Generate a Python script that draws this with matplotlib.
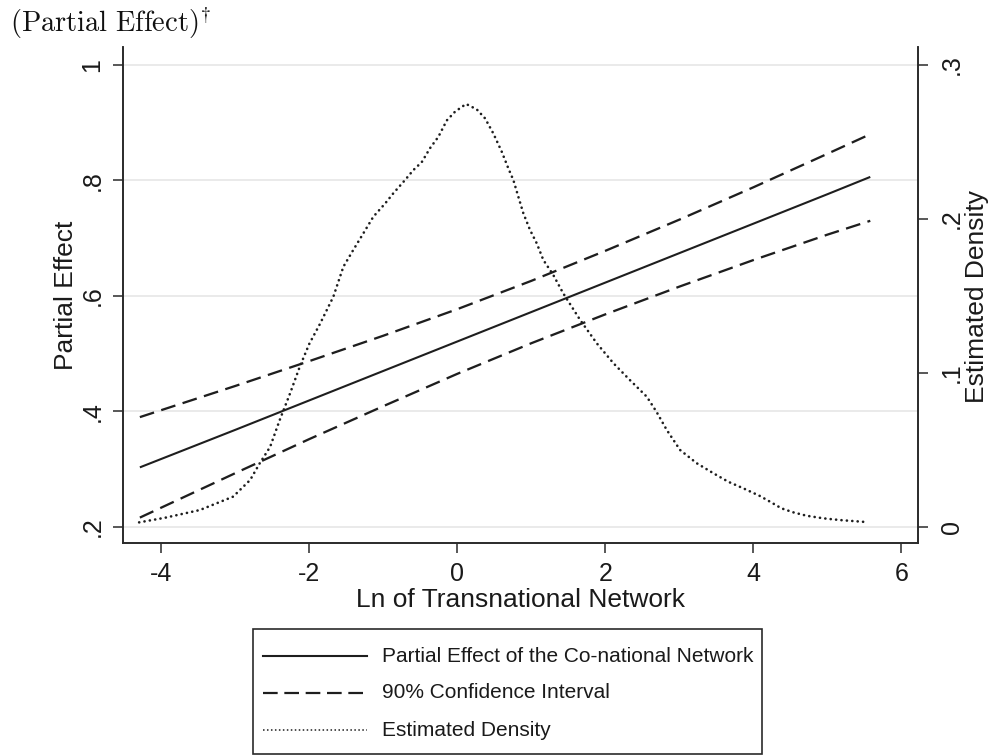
import matplotlib
matplotlib.use("Agg")
import matplotlib.pyplot as plt
from matplotlib.lines import Line2D
from matplotlib.patches import Rectangle

plt.rcParams['font.family'] = ['Liberation Sans', 'DejaVu Sans']
plt.rcParams['mathtext.fontset'] = 'cm'

# ---- data ----
x_eff = [-4.29, -3.0, -2.0, -1.0, 0.0, 1.0, 2.0, 3.0, 4.0, 5.0, 5.58]
effect = [0.303, 0.368, 0.419, 0.470, 0.521, 0.572, 0.623, 0.674, 0.725, 0.776, 0.806]
upper = [0.390, 0.444, 0.487, 0.531, 0.577, 0.626, 0.678, 0.732, 0.788, 0.846, 0.880]
lower = [0.216, 0.293, 0.352, 0.409, 0.465, 0.518, 0.568, 0.616, 0.662, 0.706, 0.730]

x_dens = [-4.30, -3.95, -3.48, -3.03, -2.80, -2.67, -2.53, -2.40, -2.26, -2.13,
          -2.00, -1.855, -1.676, -1.54, -1.405, -1.27, -1.135, -0.977, -0.865, -0.707,
          -0.594, -0.48, -0.369, -0.256, -0.143, -0.031, 0.118, 0.262, 0.374, 0.486,
          0.60, 0.689, 0.757, 0.824, 0.892, 0.982, 1.073, 1.162, 1.297, 1.43,
          1.66, 1.884, 2.11, 2.33, 2.56, 2.69, 2.83, 3.01, 3.235, 3.46,
          3.66, 3.865, 4.09, 4.226, 4.38, 4.54, 4.72, 4.95, 5.17, 5.53]
density = [0.003, 0.006, 0.011, 0.0197, 0.0305, 0.0414, 0.052, 0.0695, 0.0868, 0.104,
           0.119, 0.132, 0.1495, 0.169, 0.180, 0.1907, 0.2015, 0.210, 0.2167, 0.2253,
           0.2318, 0.237, 0.246, 0.2534, 0.264, 0.2697, 0.2747, 0.2712, 0.2654, 0.2556,
           0.2437, 0.2329, 0.2253, 0.2145, 0.2037, 0.1929, 0.1842, 0.1734, 0.1636, 0.1518,
           0.1344, 0.1193, 0.1063, 0.0955, 0.0846, 0.0749, 0.063, 0.050, 0.0414, 0.0349,
           0.0294, 0.0251, 0.0201, 0.0164, 0.0121, 0.0095, 0.0073, 0.0056, 0.0045, 0.0032]

x_ticks = [-4, -2, 0, 2, 4, 6]
x_ticklabels = ['-4', '-2', '0', '2', '4', '6']
y_ticks = [0.2, 0.4, 0.6, 0.8, 1.0]
y_ticklabels = ['.2', '.4', '.6', '.8', '1']
y2_ticks = [0.0, 0.1, 0.2, 0.3]
y2_ticklabels = ['0', '.1', '.2', '.3']

labels = ['Partial Effect of the Co-national Network',
          '90% Confidence Interval',
          'Estimated Density']

W, H = 993, 756
fig = plt.figure(figsize=(W / 100, H / 100), dpi=100)
fig.patch.set_facecolor('white')

L, R, B, T = 123, 918, 543, 47
ax = fig.add_axes([L / W, 1 - B / H, (R - L) / W, (B - T) / H])
ax2 = ax.twinx()

ink = '#1e1e1e'
spine_c = '#2a2a2a'
txt_c = '#1a1a1a'

ax.set_xlim(-4.518, 6.225)
ax.set_ylim(0.172, 1.031)
ax2.set_ylim(-0.0104, 0.3117)

# grid
for v in y_ticks:
    ax.axhline(v, color='#e8e8e8', lw=1.3, zorder=0)

dash = (0, (6.5, 3.3))
ax.plot(x_eff, effect, color=ink, lw=1.5, solid_capstyle='butt', zorder=3)
ax.plot(x_eff, upper, color=ink, lw=1.65, linestyle=dash, zorder=3)
ax.plot(x_eff, lower, color=ink, lw=1.65, linestyle=dash, zorder=3)
ax2.plot(x_dens, density, color=ink, lw=1.9, linestyle=(0, (0.05, 2.0)),
         dash_capstyle='round', zorder=3)

for a in (ax, ax2):
    a.spines['top'].set_visible(False)
    for s in ('left', 'bottom', 'right'):
        a.spines[s].set_color(spine_c)
        a.spines[s].set_linewidth(1.2)
    a.set_facecolor('none')

ax.set_xticks(x_ticks)
ax.set_xticklabels(x_ticklabels)
ax.set_yticks(y_ticks)
ax.set_yticklabels(y_ticklabels, rotation=90, va='center')
ax2.set_yticks(y2_ticks)
ax2.set_yticklabels(y2_ticklabels, rotation=90, va='center')

ax.tick_params(axis='x', length=7.5, width=1.1, color=spine_c, labelsize=18, pad=6,
               labelcolor=txt_c)
ax.tick_params(axis='y', length=7.5, width=1.1, color=spine_c, labelsize=18, pad=6,
               labelcolor=txt_c)
ax2.tick_params(axis='y', length=7.5, width=1.1, color=spine_c, labelsize=18, pad=8,
                labelcolor=txt_c)

fig.text(520 / W, 1 - 600 / H, 'Ln of Transnational Network', ha='center', va='center',
         fontsize=19, color=txt_c)
fig.text(66 / W, 1 - 295 / H, 'Partial Effect', rotation=90, ha='center', va='center',
         fontsize=19, color=txt_c)
fig.text(977 / W, 1 - 297 / H, 'Estimated Density', rotation=90, ha='center', va='center',
         fontsize=19, color=txt_c)

fig.text(10 / W, 1 - 32 / H, r'$\mathrm{(Partial\ Effect)}^{\dagger}$', ha='left',
         va='baseline', fontsize=20.5, color='#111111')

# ---- legend (box, handles, labels) ----
box_l, box_r, box_t, box_b = 253, 762, 629, 754
fig.add_artist(Rectangle((box_l / W, 1 - box_b / H), (box_r - box_l) / W,
                         (box_b - box_t) / H, transform=fig.transFigure,
                         facecolor='white', edgecolor=spine_c, lw=1.2))
row_y = [656, 693, 730]
styles = [dict(lw=1.5, linestyle='-'),
          dict(lw=1.6, linestyle=(0, (6.6, 3.0))),
          dict(lw=1.1, linestyle=(0, (1, 1.6)))]
for yy, st, lab in zip(row_y, styles, labels):
    fig.add_artist(Line2D([263 / W, 367 / W], [1 - yy / H, 1 - yy / H],
                          transform=fig.transFigure, color=ink, **st))
    fig.text(382 / W, 1 - yy / H, lab, ha='left', va='center', fontsize=15, color=txt_c)

fig.savefig('out.png', dpi=100, facecolor='white')
